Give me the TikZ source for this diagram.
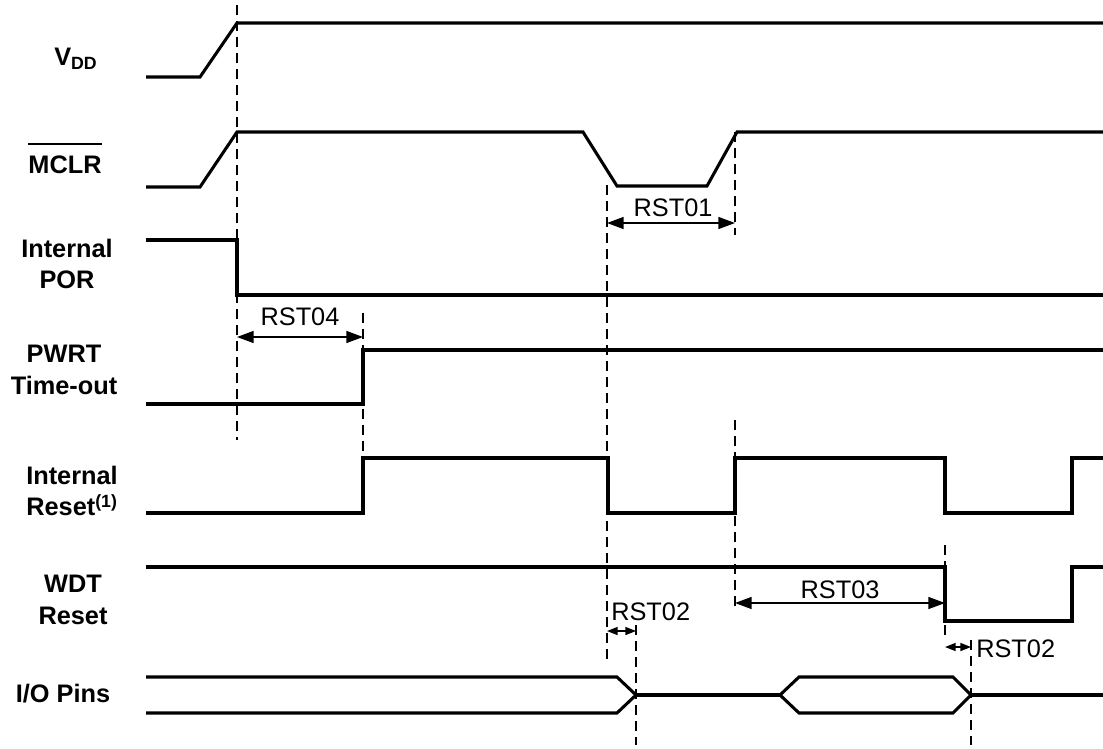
\documentclass[tikz,border=0pt]{standalone}
\usepackage{fontspec}
\setmainfont{Liberation Sans}
\usetikzlibrary{arrows.meta}
\begin{document}
\begin{tikzpicture}[x=0.75pt,y=-0.75pt,
  sig/.style={line width=2.3pt, line join=miter},
  guide/.style={line width=1.1pt, dash pattern=on 7.5pt off 4.5pt},
  dimbig/.style={line width=1.1pt, {Triangle[length=12.5pt,width=9pt]}-{Triangle[length=12.5pt,width=9pt]}},
  dimsmall/.style={line width=1.1pt, {Triangle[length=8pt,width=6pt]}-{Triangle[length=8pt,width=6pt]}},
  lbl/.style={font=\fontsize{19}{23.5}\selectfont\bfseries, align=center, inner sep=0pt},
  tlbl/.style={font=\fontsize{19}{22}\selectfont, inner sep=0pt}]
\useasboundingbox (0,0) rectangle (1103,749);

% signal labels
\node[lbl, anchor=base west] (vdd) at (54,65) {V\textsubscript{DD}};
\node[lbl] (mclr) at (65,165) {MCLR};
\draw[line width=1.5pt] ([yshift=9pt]mclr.north west) -- ([yshift=9pt]mclr.north east);
\node[lbl] (por) at (67,264) {Internal\\POR};
\node[lbl] (pwrt) at (64,370) {PWRT\\Time-out};
\node[lbl] (ires) at (72,491) {Internal\\Reset\textsuperscript{(1)}};
\node[lbl] (wdt) at (73,600) {WDT\\Reset};
\node[lbl] (io) at (63,694) {I/O Pins};

% guide lines
\draw[guide] (237,5) -- (237,440);
\draw[guide] (363,313) -- (363,458);
\draw[guide] (607,185) -- (607,660);
\draw[guide] (735,132) -- (735,235);
\draw[guide] (735,420) -- (735,612);
\draw[guide] (945,545) -- (945,640);
\draw[guide] (636,625) -- (636,745);
\draw[guide] (971,640) -- (971,745);

% VDD
\draw[sig] (146,77) -- (200,77) -- (237,23) -- (1103,23);
% MCLR
\draw[sig] (146,187) -- (200,187) -- (237,132) -- (583,132) -- (617,186) -- (707,186) -- (737,132) -- (1103,132);
% Internal POR
\draw[sig] (146,240) -- (237,240) -- (237,295) -- (1103,295);
% PWRT
\draw[sig] (146,404) -- (363,404) -- (363,350) -- (1103,350);
% Internal reset
\draw[sig] (146,513) -- (363,513) -- (363,458) -- (608,458) -- (608,513) -- (735,513) -- (735,458) -- (945,458) -- (945,513) -- (1072,513) -- (1072,458) -- (1103,458);
% WDT reset
\draw[sig] (146,567) -- (945,567) -- (945,621) -- (1072,621) -- (1072,567) -- (1103,567);
% I/O pins
\draw[sig] (146,677) -- (617,677) -- (636,695) -- (617,713) -- (146,713);
\draw[sig] (636,695) -- (780,695);
\draw[sig] (780,695) -- (799,677) -- (953,677) -- (971,695) -- (953,713) -- (799,713) -- cycle;
\draw[sig] (971,695) -- (1103,695);

% timing annotations
\coordinate (a1) at (607,223); \coordinate (b1) at (735,223);
\draw[dimbig] (a1) -- (b1);
\node[tlbl] (rst01) at (673,208) {RST01};
\coordinate (a4) at (237,337); \coordinate (b4) at (363,337);
\draw[dimbig] (a4) -- (b4);
\node[tlbl] (rst04) at (300,317) {RST04};
\coordinate (a3) at (735,603); \coordinate (b3) at (945,603);
\draw[dimbig] (a3) -- (b3);
\node[tlbl] (rst03) at (840,590) {RST03};
\coordinate (a2) at (607,631); \coordinate (b2) at (636,631);
\draw[dimsmall] (a2) -- (b2);
\node[tlbl, anchor=west] (rst02a) at (611,612) {RST02};
\coordinate (a5) at (945,647); \coordinate (b5) at (971,647);
\draw[dimsmall] (a5) -- (b5);
\node[tlbl, anchor=west] (rst02b) at (976,649) {RST02};
\end{tikzpicture}
\end{document}
